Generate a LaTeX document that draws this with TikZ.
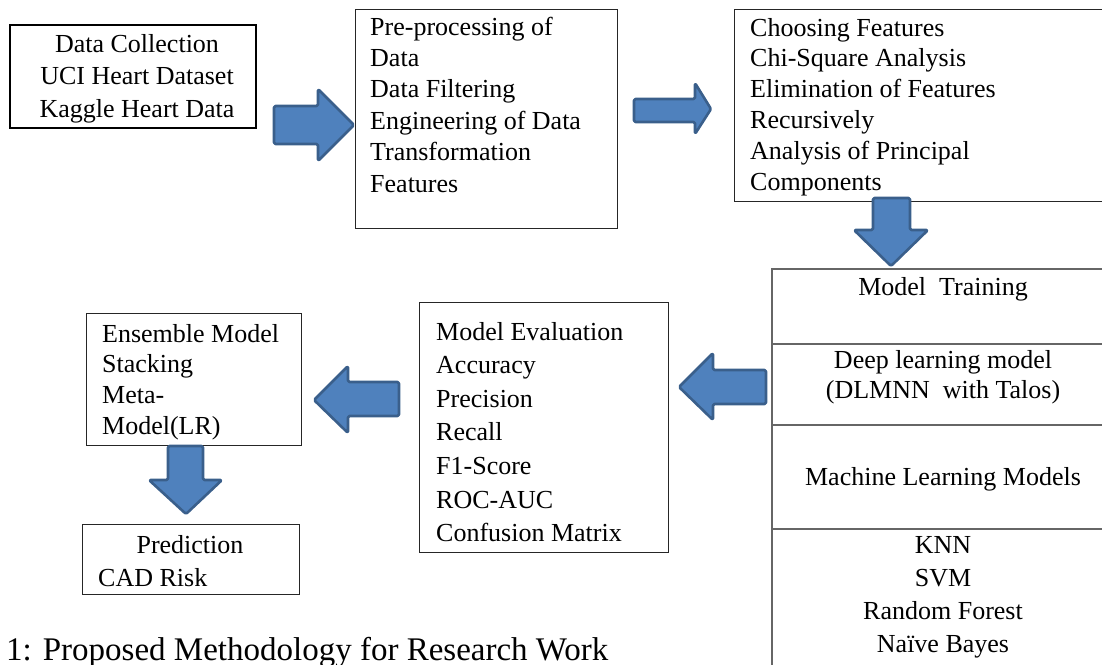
\documentclass[tikz,border=0pt]{standalone}
\usepackage{fontspec}
\setmainfont{Liberation Serif}
\definecolor{afill}{HTML}{4F81BD}
\definecolor{aline}{HTML}{3A5F8B}
\newcommand\bodyfs{\fontsize{26}{31}\selectfont}
\newcommand\capfs{\fontsize{33}{38}\selectfont}
\tikzset{
  box/.style={draw=black!85, line width=1.2pt, anchor=north west, inner sep=0pt, fill=white},
  thickbox/.style={box, draw=black, line width=2pt},
  trainbox/.style={box, draw=black!60, line width=1.5pt},
  txt/.style={inner sep=0pt, font=\bodyfs},
  blockarrow/.style={fill=afill, draw=aline, line width=2.6pt, line join=round, rounded corners=1.5pt},
}
\begin{document}
\begin{tikzpicture}[x=1pt,y=-1pt]
\useasboundingbox (0,0) rectangle (1102,664);
\clip (0,0) rectangle (1102,664);
% boxes
\node[thickbox, minimum width=246pt, minimum height=103pt] (b1) at (9,24) {};
\node[box, minimum width=262pt, minimum height=219pt] (b2) at (355,9) {};
\node[box, minimum width=390pt, minimum height=192pt] (b3) at (734,9) {};
\node[trainbox, minimum width=360pt, minimum height=75pt] (t1) at (771,268) {};
\node[trainbox, minimum width=360pt, minimum height=81pt] (t2) at (771,343) {};
\node[trainbox, minimum width=360pt, minimum height=104pt] (t3) at (771,424) {};
\node[trainbox, minimum width=360pt, minimum height=160pt] (t4) at (771,528) {};
\node[box, minimum width=249pt, minimum height=250pt] (b5) at (419,302) {};
\node[box, minimum width=215pt, minimum height=132pt] (b6) at (86,313) {};
\node[box, minimum width=217pt, minimum height=70pt] (b7) at (82,524) {};
% texts
\foreach \t [count=\i from 0] in {{Data Collection},{UCI Heart Dataset},{Kaggle Heart Data}}
  \node[txt, anchor=base] (d\i) at (137, 52+32.5*\i) {\t};
\foreach \t [count=\i from 0] in {{Pre-processing of},{Data},{Data Filtering},{Engineering of Data},{Transformation},{Features}}
  \node[txt, anchor=base west] (p\i) at (370, 35+31.4*\i) {\t};
\foreach \t [count=\i from 0] in {{Choosing Features},{Chi-Square Analysis},{Elimination of Features},{Recursively},{Analysis of Principal},{Components}}
  \node[txt, anchor=base west] (c\i) at (750, 36+30.8*\i) {\t};
\node[txt, anchor=base] (m0) at (943,295) {Model~ Training};
\node[txt, anchor=base] (m1) at (943,368) {Deep learning model};
\node[txt, anchor=base] (m2) at (943,398) {(DLMNN~ with Talos)};
\node[txt, anchor=base] (m3) at (943,485) {Machine Learning Models};
\foreach \t [count=\i from 0] in {{KNN},{SVM},{Random Forest},{Naïve Bayes}}
  \node[txt, anchor=base] (k\i) at (943, 553+33.3*\i) {\t};
\foreach \t [count=\i from 0] in {{Model Evaluation},{Accuracy},{Precision},{Recall},{F1-Score},{ROC-AUC},{Confusion Matrix}}
  \node[txt, anchor=base west] (e\i) at (436, 340+33.6*\i) {\t};
\foreach \t [count=\i from 0] in {{Ensemble Model},{Stacking},{Meta-},{Model(LR)}}
  \node[txt, anchor=base west] (s\i) at (102, 342+30.7*\i) {\t};
\node[txt, anchor=base] (r0) at (190,553) {Prediction};
\node[txt, anchor=base west] (r1) at (98,586) {CAD Risk};
\node[inner sep=0pt, font=\capfs, anchor=base west] (cap) at (6,660) {1: Proposed Methodology for Research Work};
% block arrows
\draw[blockarrow] (274,106) -- (318,106) -- (318,89) -- (354,125) -- (318,161) -- (318,144) -- (274,144) -- cycle;
\draw[blockarrow] (634,99) -- (695,99) -- (695,83) -- (711,109) -- (695,134) -- (695,122) -- (634,122) -- cycle;
\draw[blockarrow] (873,198) -- (873,230) -- (854,230) -- (891,266) -- (928,230) -- (910,230) -- (910,198) -- cycle;
\draw[blockarrow] (766,370) -- (713,370) -- (713,353) -- (679,387) -- (713,420) -- (713,404) -- (766,404) -- cycle;
\draw[blockarrow] (399,382) -- (348,382) -- (348,366) -- (314,400) -- (348,433) -- (348,416) -- (399,416) -- cycle;
\draw[blockarrow] (168,446) -- (168,480) -- (149,480) -- (186,514) -- (222,480) -- (203,480) -- (203,446) -- cycle;
\end{tikzpicture}
\end{document}
